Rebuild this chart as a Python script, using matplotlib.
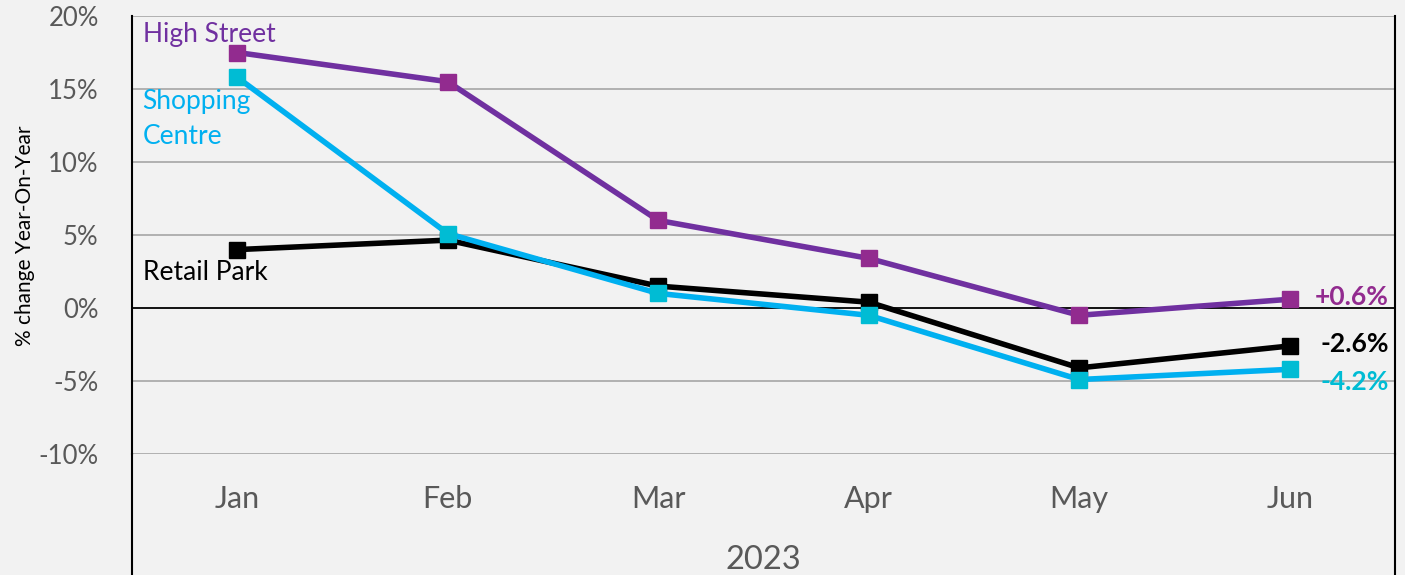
import matplotlib.pyplot as plt
from matplotlib.lines import Line2D

months = ["Jan", "Feb", "Mar", "Apr", "May", "Jun"]
year_label = "2023"
high_street = [17.5, 15.5, 6.0, 3.4, -0.5, 0.6]
shopping_centre = [15.8, 5.1, 1.0, -0.5, -4.9, -4.2]
retail_park = [4.0, 4.65, 1.5, 0.4, -4.1, -2.6]
yticks = [-10, -5, 0, 5, 10, 15, 20]

BG = "#f2f2f2"
GREY = "#595959"

plt.rcParams['font.family'] = ['Lato', 'DejaVu Sans']

fig = plt.figure(figsize=(14.05, 5.75), dpi=100, facecolor=BG)
ax = fig.add_axes([132 / 1405, 1 - 454 / 575, 1263 / 1405, 438 / 575])
ax.set_facecolor(BG)

x = range(len(months))
ax.plot(x, high_street, color="#7030a0", lw=4, marker="s", ms=11,
        mfc="#922b8f", mec="#922b8f", zorder=4)
ax.plot(x, retail_park, color="black", lw=4, marker="s", ms=11,
        mfc="black", mec="black", zorder=3)
ax.plot(x, shopping_centre, color="#00b0f0", lw=4, marker="s", ms=11,
        mfc="#00bcd4", mec="#00bcd4", zorder=5)

ax.set_xlim(-0.5, len(months) - 0.5)
ax.set_ylim(-10, 20)
ax.set_yticks(yticks)
ax.set_yticklabels([f"{t}%" for t in yticks], fontsize=18.5, color=GREY)
ax.set_xticks(list(x))
ax.set_xticklabels(months, fontsize=22, color=GREY)
ax.tick_params(axis="y", length=0, pad=24)
ax.tick_params(axis="x", length=0, pad=22)
for t in yticks:
    if t != 0:
        ax.axhline(t, color="#a6a6a6", lw=1.2, zorder=1)
ax.axhline(0, color="black", lw=1.3, zorder=2)
for s in ["top", "bottom"]:
    ax.spines[s].set_visible(False)
for s in ["left", "right"]:
    ax.spines[s].set_color("black")
    ax.spines[s].set_linewidth(1.5)

# axis lines extend below the plot, like a multi-level category axis
for xf in [132 / 1405, 1395 / 1405]:
    fig.add_artist(Line2D([xf, xf], [0, 1 - 454 / 575], color="black", lw=1.5))

fig.text(763 / 1405, 1 - 560 / 575, year_label, fontsize=23.5, color=GREY,
         ha="center", va="center")
fig.text(25 / 1405, 1 - 236 / 575, "% change Year-On-Year", rotation=90,
         fontsize=15, color="black", ha="center", va="center")

# series labels
ax.text(-0.45, 18.75, "High Street", color="#7030a0", fontsize=19, va="center")
ax.text(-0.45, 12.95, "Shopping\nCentre", color="#00b0f0", fontsize=19,
        va="center", linespacing=1.5)
ax.text(-0.45, 2.45, "Retail Park", color="black", fontsize=19, va="center")

# end value labels
ax.text(5.47, 0.75, f"{high_street[-1]:+.1f}%", color="#922b8f", fontsize=19,
        fontweight="bold", ha="right", va="center")
ax.text(5.47, -2.45, f"{retail_park[-1]:.1f}%", color="black", fontsize=19,
        fontweight="bold", ha="right", va="center")
ax.text(5.47, -5.1, f"{shopping_centre[-1]:.1f}%", color="#00bcd4", fontsize=19,
        fontweight="bold", ha="right", va="center")

fig.savefig("out.png", dpi=100, facecolor=BG)
